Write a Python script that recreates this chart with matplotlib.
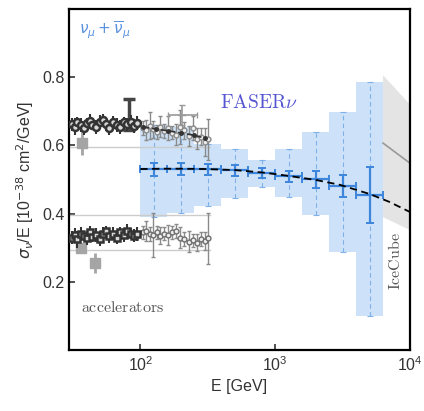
import matplotlib.pyplot as plt

# FASERnu projected bins
bin_edges = [100, 158, 251, 398, 631, 1000, 1585, 2512, 3981, 6310]
bin_centers = [126, 200, 316, 501, 794, 1259, 1995, 3162, 5012]
faser_val = [0.530, 0.531, 0.530, 0.527, 0.520, 0.510, 0.501, 0.481, 0.455]
faser_stat = [0.018, 0.017, 0.016, 0.015, 0.015, 0.016, 0.025, 0.033, 0.083]
band_hi = [0.660, 0.655, 0.603, 0.590, 0.557, 0.589, 0.639, 0.698, 0.785]
band_lo = [0.390, 0.402, 0.422, 0.447, 0.478, 0.449, 0.396, 0.288, 0.100]

# theory curve
theory_E = [100, 150, 200, 300, 500, 800, 1200, 2000, 3000, 5000, 7000, 10000]
theory_val = [0.531, 0.532, 0.532, 0.531, 0.528, 0.521, 0.512, 0.499, 0.485, 0.458, 0.435, 0.405]

# IceCube band
ice_E = [6310, 10000, 10000, 6310]
ice_val = [0.806, 0.720, 0.352, 0.390]
ice_line_E = [6310, 10000]
ice_line_val = [0.607, 0.548]

# accelerator data (nu, low energy)
acc_nu_E = [31, 32.5, 34, 36, 38, 40, 42, 44, 47, 50, 53, 56, 59, 63, 67, 71, 75, 80, 85, 90, 95]
acc_nu_val = [0.662, 0.655, 0.668, 0.660, 0.650, 0.665, 0.672, 0.660, 0.655, 0.668, 0.676,
              0.662, 0.652, 0.670, 0.660, 0.655, 0.668, 0.662, 0.670, 0.658, 0.665]
acc_nu_err = [0.02, 0.025, 0.015, 0.02, 0.02, 0.015, 0.02, 0.015, 0.02, 0.02, 0.015,
              0.02, 0.02, 0.015, 0.02, 0.02, 0.015, 0.02, 0.02, 0.02, 0.02]
# accelerator data (nu, high energy)
acc_nu2_E = [104, 110, 117, 124, 132, 140, 150, 160, 172, 185, 198, 212, 228, 245, 262, 280, 300, 318]
acc_nu2_val = [0.652, 0.645, 0.658, 0.648, 0.640, 0.655, 0.642, 0.650, 0.638, 0.632, 0.655,
               0.645, 0.628, 0.650, 0.620, 0.625, 0.610, 0.618]
acc_nu2_err = [0.02, 0.03, 0.04, 0.025, 0.02, 0.03, 0.02, 0.035, 0.02, 0.03, 0.05,
               0.025, 0.03, 0.035, 0.03, 0.025, 0.04, 0.06]
acc_nu3_E = [105, 130, 160, 200, 250, 300]
acc_nu3_val = [0.655, 0.648, 0.643, 0.637, 0.630, 0.622]
# accelerator data (nubar)
acc_nub_E = acc_nu_E
acc_nub_val = [0.330, 0.338, 0.325, 0.342, 0.335, 0.328, 0.345, 0.332, 0.338, 0.326, 0.340,
               0.350, 0.335, 0.342, 0.330, 0.345, 0.338, 0.350, 0.342, 0.336, 0.340]
acc_nub_err = [0.02, 0.02, 0.025, 0.02, 0.015, 0.02, 0.02, 0.015, 0.02, 0.02, 0.02,
               0.015, 0.02, 0.02, 0.02, 0.015, 0.02, 0.02, 0.015, 0.02, 0.02]
acc_nub2_E = acc_nu2_E
acc_nub2_val = [0.345, 0.350, 0.340, 0.338, 0.345, 0.335, 0.342, 0.338, 0.345, 0.350, 0.330,
                0.325, 0.318, 0.322, 0.315, 0.325, 0.320, 0.328]
acc_nub2_err = [0.02, 0.03, 0.02, 0.065, 0.02, 0.025, 0.02, 0.03, 0.02, 0.02, 0.03,
                0.02, 0.03, 0.02, 0.025, 0.02, 0.025, 0.075]
gray_sq_E = [37, 46, 36]
gray_sq_val = [0.607, 0.255, 0.300]
gray_sq_err = [0.035, 0.03, 0.012]
ref_lines = [0.595, 0.397, 0.295]

plt.rcParams['font.family'] = ['Liberation Sans', 'DejaVu Sans']

fig = plt.figure(figsize=(4.24, 4.11), dpi=100)
ax = fig.add_axes([0.163, 0.148, 0.804, 0.830])

light_blue = '#cde2f8'
mid_blue = '#7eb0ea'
dark_blue = '#3d86dc'

# FASERnu band
ax.stairs(band_hi, bin_edges, baseline=band_lo, fill=True, color=light_blue, lw=0, zorder=1)
eb = ax.errorbar(bin_centers, faser_val, yerr=[[v - l for v, l in zip(faser_val, band_lo)],
                                               [h - v for v, h in zip(faser_val, band_hi)]],
                 fmt='none', ecolor=mid_blue, elinewidth=0.8, capsize=2, capthick=0.8, zorder=2)
eb[2][0].set_linestyle((0, (4, 3)))

# IceCube
ax.fill(ice_E, ice_val, color='#e4e4e4', lw=0, zorder=1)
ax.plot(ice_line_E, ice_line_val, color='#999999', lw=1.2, zorder=2)

# accelerator reference lines
for yv in ref_lines:
    ax.plot([30, 330], [yv, yv], color='#cccccc', lw=1, zorder=2)

# accelerator data
ax.errorbar(acc_nu2_E, acc_nu2_val, yerr=acc_nu2_err, fmt='o', ms=3.5, mfc='#eeeeee', mec='#8a8a8a',
            ecolor='#8a8a8a', elinewidth=1, capsize=1.5, zorder=3)
ax.errorbar(acc_nub2_E, acc_nub2_val, yerr=acc_nub2_err, fmt='o', ms=3.5, mfc='#eeeeee', mec='#6e6e6e',
            ecolor='#8a8a8a', elinewidth=1, capsize=1.5, zorder=3)
ax.errorbar([205], [0.69], xerr=[[45], [60]], yerr=[0.03], fmt='_', color='#999999',
            elinewidth=1.2, capsize=2, zorder=3)
ax.errorbar([82], [0.69], yerr=[0.045], fmt='none', ecolor='#444444', elinewidth=2.5,
            capsize=4, capthick=2.5, zorder=4)
ax.errorbar(gray_sq_E, gray_sq_val, yerr=gray_sq_err, fmt='s', ms=7, color='#a5a5a5',
            elinewidth=2, zorder=3)
ax.errorbar(acc_nu_E, acc_nu_val, yerr=acc_nu_err, fmt='o', ms=5, mfc='#d8d8d8', mec='#333333',
            mew=1.8, ecolor='#333333', elinewidth=1.5, zorder=4)
ax.errorbar(acc_nub_E, acc_nub_val, yerr=acc_nub_err, fmt='s', ms=5, mfc='#d8d8d8', mec='#333333',
            mew=1.8, ecolor='#333333', elinewidth=1.5, zorder=4)
ax.plot(acc_nu3_E, acc_nu3_val, ls='--', color='#333333', lw=1.2, marker='o', ms=2.5, zorder=4)

# FASERnu central values
ax.errorbar(bin_centers, faser_val,
            xerr=[[c - lo for c, lo in zip(bin_centers, bin_edges[:-1])],
                  [hi - c for c, hi in zip(bin_centers, bin_edges[1:])]],
            yerr=faser_stat, fmt='none', ecolor=dark_blue, elinewidth=1.6, capsize=3,
            capthick=1.4, zorder=5)
ax.plot(theory_E, theory_val, color='black', ls=(0, (4, 2.5)), lw=1.3, zorder=6)

# text
ax.text(0.03, 0.968, r'$\nu_\mu + \overline{\nu}_\mu$', transform=ax.transAxes, color='#5a92e0',
        fontsize=11, va='top', ha='left')
ax.text(760, 0.725, r'$\mathrm{FASER}\nu$', color='#5656d2', fontsize=14, ha='center',
        va='center', math_fontfamily='cm')
ax.text(36, 0.125, r'$\mathrm{accelerators}$', color='#555555', fontsize=11.5, ha='left',
        va='center', math_fontfamily='cm')
ax.text(7750, 0.262, r'$\mathrm{IceCube}$', color='#555555', fontsize=11.5, ha='center',
        va='center', rotation=90, math_fontfamily='cm')

ax.set_xscale('log')
ax.set_xlim(29.6, 10000)
ax.set_ylim(0, 1.0)
ax.set_yticks([0.2, 0.4, 0.6, 0.8])
ax.set_xticks([100, 1000, 10000])
ax.minorticks_off()
ax.tick_params(direction='in', length=4, width=1.2, labelsize=11.5, colors='#333333',
               labelcolor='#333333')
for sp in ax.spines.values():
    sp.set_linewidth(1.6)
ax.set_xlabel('E [GeV]', fontsize=11.5, color='#333333', labelpad=4)
ax.set_ylabel(r'$\sigma_\nu$/E [10$^{-38}$ cm$^2$/GeV]', fontsize=11.5, color='#333333', labelpad=4)

fig.savefig('out.png', dpi=100)
